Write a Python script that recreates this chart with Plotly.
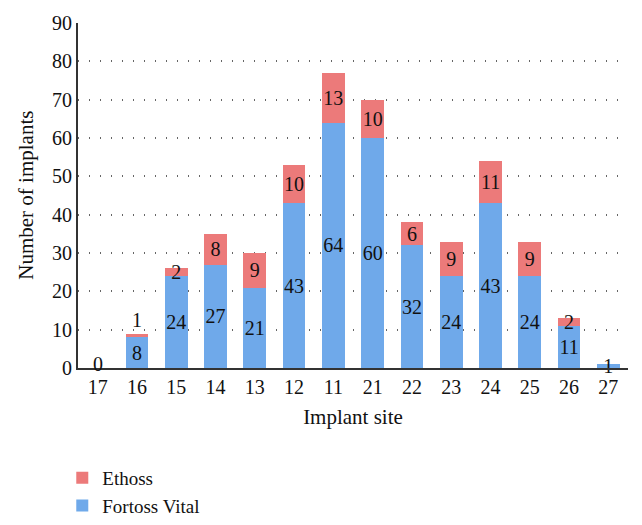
import plotly.graph_objects as go

sites = ["17", "16", "15", "14", "13", "12", "11", "21", "22", "23", "24", "25", "26", "27"]
fortoss_vital = [0, 8, 24, 27, 21, 43, 64, 60, 32, 24, 43, 24, 11, 1]
ethoss = [0, 1, 2, 8, 9, 10, 13, 10, 6, 9, 11, 9, 2, 0]

FONT = "Liberation Serif, Times New Roman, serif"
BLUE = "#6fa9ea"
RED = "#ec7a7a"
TXT = dict(family=FONT, size=20, color="#111")

fig = go.Figure()
fig.add_trace(go.Bar(
    name="Fortoss Vital", x=sites, y=fortoss_vital,
    marker=dict(color=BLUE, line=dict(width=0)),
    text=[str(v) if v > 0 else "" for v in fortoss_vital],
    textposition="inside", insidetextanchor="middle", textangle=0,
    textfont=TXT, cliponaxis=False, constraintext="none",
))
fig.add_trace(go.Bar(
    name="Ethoss", x=sites, y=ethoss,
    marker=dict(color=RED, line=dict(width=0)),
    text=[str(v) if v > 0 else "" for v in ethoss],
    textposition=["outside" if v == 1 else "inside" for v in ethoss],
    insidetextanchor="middle", textangle=0,
    textfont=TXT, outsidetextfont=TXT, cliponaxis=False, constraintext="none",
))

# zero-valued labels
for i, v in enumerate(fortoss_vital):
    if v == 0:
        fig.add_annotation(x=i, y=v, text=str(v), showarrow=False, yanchor="bottom",
                           yshift=-9, font=TXT)

# y-axis title
fig.add_annotation(text="Number of implants", xref="paper", yref="paper",
                   x=-0.096, y=0.5, xanchor="center", yanchor="middle",
                   textangle=-90, showarrow=False,
                   font=dict(family=FONT, size=21, color="#111"))

fig.update_layout(
    width=642, height=525,
    margin=dict(l=78, r=14, t=23, b=157, autoexpand=False),
    barmode="stack", bargap=0.42,
    paper_bgcolor="white", plot_bgcolor="white",
    font=dict(family=FONT, size=18, color="#111"),
    uniformtext=dict(mode="show", minsize=20),
    legend=dict(traceorder="reversed", orientation="v", x=0.097, xref="container",
                xanchor="left", y=0.126, yref="container", yanchor="top",
                font=dict(family=FONT, size=19, color="#111"),
                itemwidth=30, tracegroupgap=0),
    showlegend=True,
)
fig.update_xaxes(
    type="category",
    showline=True, linecolor="#333", linewidth=2, ticks="",
    tickfont=dict(family=FONT, size=20, color="#111"),
    title=dict(text="Implant site", font=dict(family=FONT, size=21, color="#111"), standoff=12),
)
fig.update_yaxes(
    range=[0, 90], dtick=10,
    showline=True, linecolor="#333", linewidth=2, ticks="",
    showgrid=True, gridcolor="#666", griddash="1px,10px", gridwidth=1.5,
    zeroline=False,
    tickfont=dict(family=FONT, size=20, color="#111"),
)

fig.write_html("out.html", config={"displayModeBar": False},
               post_script="document.body.style.margin='0';")
